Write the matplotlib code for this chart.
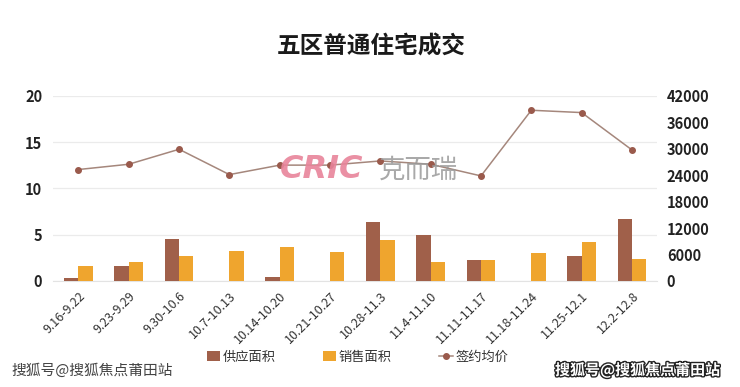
import matplotlib.pyplot as plt
import matplotlib.patheffects as pe
import numpy as np

plt.rcParams['font.family'] = ['Noto Sans CJK SC', 'DejaVu Sans']

# data
weeks = ["9.16-9.22", "9.23-9.29", "9.30-10.6", "10.7-10.13", "10.14-10.20", "10.21-10.27",
         "10.28-11.3", "11.4-11.10", "11.11-11.17", "11.18-11.24", "11.25-12.1", "12.2-12.8"]
supply = [0.35, 1.6, 4.57, 0, 0.47, 0, 6.41, 4.93, 2.32, 0, 2.72, 6.7]
sales = [1.67, 2.1, 2.72, 3.22, 3.62, 3.12, 4.42, 2.07, 2.32, 3.0, 4.24, 2.36]
price = [25300, 26500, 29900, 24150, 26300, 26300, 27250, 26500, 23850, 38760, 38230, 29750]
left_ticks = [0, 5, 10, 15, 20]
right_ticks = [0, 6000, 12000, 18000, 24000, 30000, 36000, 42000]

c_supply = "#A0604A"
c_sales = "#EFA52E"
c_line = "#A5877C"
c_mark = "#9A5A4C"

fig = plt.figure(figsize=(7.4, 3.87), dpi=100)
ax = fig.add_axes([0.072, 0.274, 0.816, 0.478])
x = np.arange(len(weeks))
w = 0.285

ax.bar(x - w / 2, supply, w, color=c_supply, label="供应面积", zorder=3)
ax.bar(x + w / 2, sales, w, color=c_sales, label="销售面积", zorder=3)
ax.set_ylim(0, 20)
ax.set_xlim(-0.5, len(weeks) - 0.5)
ax.set_yticks(left_ticks)
ax.grid(axis="y", color="#EBEBEB", linewidth=0.9, zorder=0)
ax.set_axisbelow(True)
for s in ["top", "right", "left"]:
    ax.spines[s].set_visible(False)
ax.spines["bottom"].set_color("#E3E3E3")
ax.tick_params(axis="y", length=0, pad=8, labelsize=10.5)
ax.tick_params(axis="x", length=0, pad=6, labelsize=9)
ax.set_xticks(x)
ax.set_xticklabels(weeks, rotation=45, ha="right", rotation_mode="anchor", color="#333333")
for t in ax.get_yticklabels():
    t.set_fontweight("bold")
    t.set_color("#222222")

ax2 = ax.twinx()
ax2.plot(x, price, color=c_line, linewidth=1.1, marker="o", markersize=4,
         markerfacecolor=c_mark, markeredgecolor=c_mark, label="签约均价", zorder=4)
ax2.set_ylim(0, 42000)
ax2.set_yticks(right_ticks)
for s in ["top", "right", "left", "bottom"]:
    ax2.spines[s].set_visible(False)
ax2.tick_params(axis="y", length=0, pad=7, labelsize=10.5)
for t in ax2.get_yticklabels():
    t.set_fontweight("bold")
    t.set_color("#222222")

fig.text(0.502, 0.879, "五区普通住宅成交", ha="center", va="center", fontsize=17,
         fontweight="bold", color="#1a1a1a")

# legend
h1, l1 = ax.get_legend_handles_labels()
h2, l2 = ax2.get_legend_handles_labels()
fig.legend(h1 + h2, l1 + l2, loc="center", bbox_to_anchor=(0.483, 0.077), ncol=3,
           frameon=False, fontsize=9.5, handlelength=1.0, handleheight=0.7,
           handletextpad=0.2, columnspacing=3.6, labelcolor="#333333")

# watermarks
fig.text(0.435, 0.561, "CRIC", ha="center", va="center", fontsize=23, fontweight="heavy",
         style="italic", family="DejaVu Sans", color="#E8849A", alpha=0.9, zorder=10)
fig.text(0.566, 0.561, "克而瑞", ha="center", va="center", fontsize=19,
         color="#9A9A9A", alpha=0.85, zorder=10)
fig.text(0.016, 0.043, "搜狐号@搜狐焦点莆田站", ha="left", va="center", fontsize=10.6,
         color="#444444")
fig.text(0.75, 0.043, "搜狐号@搜狐焦点莆田站", ha="left", va="center", fontsize=10.8,
         color="white", fontweight="bold",
         path_effects=[pe.withStroke(linewidth=2, foreground="#222222")])

fig.savefig("out.png", dpi=100)
